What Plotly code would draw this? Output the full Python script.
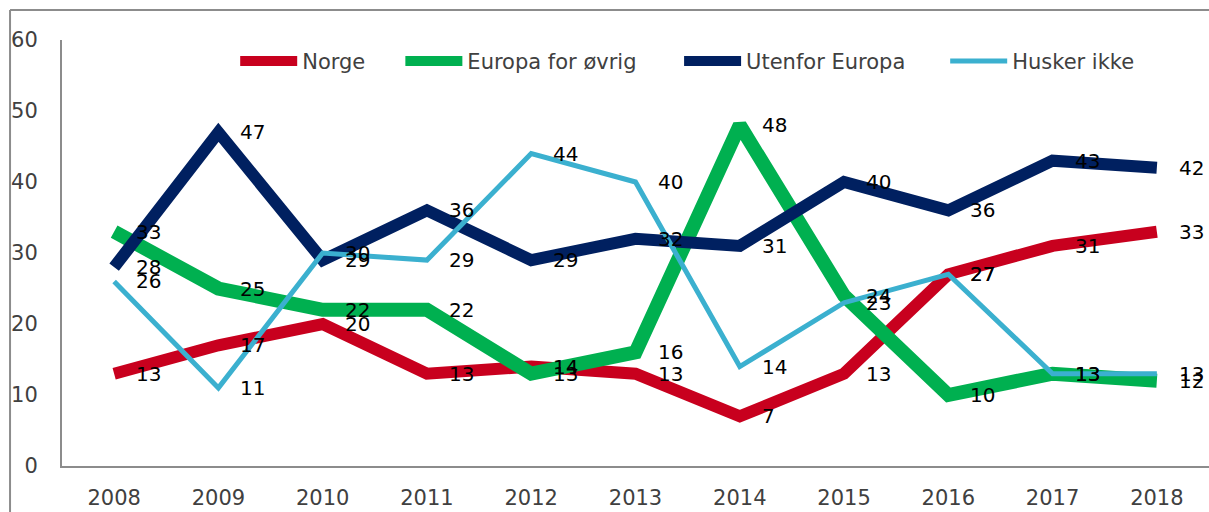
import plotly.graph_objects as go

years = [2008, 2009, 2010, 2011, 2012, 2013, 2014, 2015, 2016, 2017, 2018]

norge = [13, 17, 20, 13, 14, 13, 7, 13, 27, 31, 33]
europa = [33, 25, 22, 22, 13, 16, 48, 24, 10, 13, 12]
utenfor = [28, 47, 29, 36, 29, 32, 31, 40, 36, 43, 42]
husker = [26, 11, 30, 29, 44, 40, 14, 23, 27, 13, 13]

series = [
    ("Norge", norge, "#C8001E", 12, "legend2", 0.151),
    ("Europa for øvrig", europa, "#00B050", 14, "legend3", 0.295),
    ("Utenfor Europa", utenfor, "#002060", 12, "legend4", 0.538),
    ("Husker ikke", husker, "#3BB0CF", 5, "legend5", 0.770),
]

fig = go.Figure()
annotations = []
for name, vals, color, width, leg, lx in series:
    fig.add_trace(go.Scatter(
        x=years, y=vals, name=name, mode="lines",
        line=dict(color=color, width=width),
        legend=leg,
    ))
    # dataetiketter til høyre for punktene
    for x, y in zip(years, vals):
        annotations.append(dict(
            x=x, y=y, text=str(y), showarrow=False,
            xanchor="left", yanchor="middle", xshift=20,
            font=dict(family="DejaVu Sans", size=20, color="#000000"),
        ))

legend_style = dict(
    orientation="h", yanchor="middle", xanchor="left", y=0.95,
    bgcolor="rgba(0,0,0,0)", itemwidth=57,
    font=dict(family="DejaVu Sans", size=21, color="#404040"),
)

fig.update_layout(
    width=1209, height=512,
    margin=dict(l=62, r=0, t=40, b=46),
    plot_bgcolor="white", paper_bgcolor="white",
    font=dict(family="DejaVu Sans", size=20, color="#404040"),
    legend2=dict(x=series[0][5], **legend_style),
    legend3=dict(x=series[1][5], **legend_style),
    legend4=dict(x=series[2][5], **legend_style),
    legend5=dict(x=series[3][5], **legend_style),
    annotations=annotations,
    xaxis=dict(
        range=[2007.5, 2018.5], tickmode="array", tickvals=years,
        showgrid=False, zeroline=False,
        showline=True, linecolor="#8C8C8C", linewidth=2,
        ticks="", ticklabelstandoff=12,
        tickfont=dict(family="DejaVu Sans", size=21, color="#404040"),
    ),
    yaxis=dict(
        range=[0, 60], dtick=10, showgrid=False, zeroline=False,
        showline=True, linecolor="#8C8C8C", linewidth=2,
        ticks="", ticklabelstandoff=18,
        tickfont=dict(family="DejaVu Sans", size=21, color="#404040"),
    ),
    shapes=[
        dict(type="line", xref="paper", yref="paper",
             x0=-0.0453, x1=-0.0453, y0=-0.2, y1=1.0704,
             line=dict(color="#8C8C8C", width=2)),
        dict(type="line", xref="paper", yref="paper",
             x0=-0.0453, x1=1.01, y0=1.0704, y1=1.0704,
             line=dict(color="#8C8C8C", width=2)),
    ],
)

fig.write_html("out.html", config={"displayModeBar": False},
               post_script="document.body.style.margin = '0px';")
